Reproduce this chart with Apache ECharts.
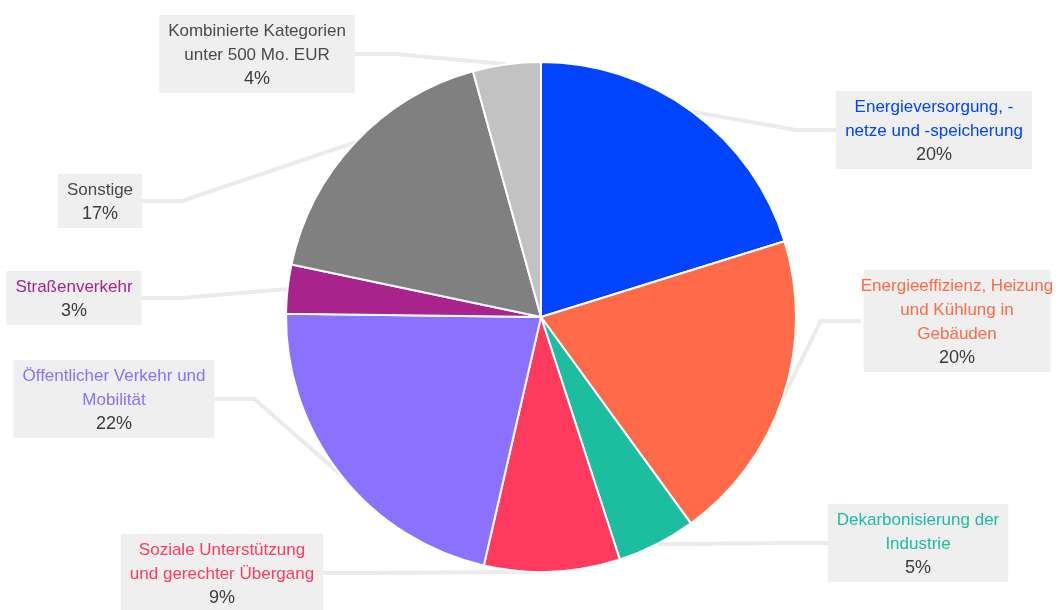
<!DOCTYPE html>
<html>
<head>
<meta charset="utf-8">
<script src="https://cdn.jsdelivr.net/npm/echarts@6/dist/echarts.min.js"></script>
<style>
    html, body { margin: 0; padding: 0; background: #fff; }
    #main { width: 1061px; height: 610px; }
</style>
</head>
<body>
<div id="main"></div>
<script>
// Anteile in Prozent
var categories = [
    'Energieversorgung, -\nnetze und -speicherung',
    'Energieeffizienz, Heizung\nund Kühlung in\nGebäuden',
    'Dekarbonisierung der\nIndustrie',
    'Soziale Unterstützung\nund gerechter Übergang',
    'Öffentlicher Verkehr und\nMobilität',
    'Straßenverkehr',
    'Sonstige',
    'Kombinierte Kategorien\nunter 500 Mo. EUR'
];
var values = [20.2, 19.8, 5.0, 8.6, 21.6, 3.1, 17.4, 4.3];
var colors = ['#0044ff', '#ff6a48', '#1dbd9f', '#ff3a5f', '#8a72ff', '#a8248c', '#808080', '#c2c2c2'];
var textColors = ['#0044ff', '#ff6a48', '#1dbd9f', '#ff3a5f', '#8a72ff', '#a8248c', '#4a4a4a', '#4a4a4a'];

// Mittelpunkte der Beschriftungskästen
var labelPos = [
    [934, 130], [957, 321], [918, 543], [222, 573],
    [114, 399], [74, 298], [100, 201], [257, 54]
];

window.onload = function () {
    var data = [];
    for (var i = 0; i < categories.length; i++) {
        data.push({
            name: categories[i],
            value: values[i],
            itemStyle: { color: colors[i] },
            label: { color: textColors[i] }
        });
    }

    var option = {
        backgroundColor: '#fff',
        series: [{
            type: 'pie',
            center: [541, 317],
            radius: 255,
            startAngle: 90,
            clockwise: true,
            percentPrecision: 0,
            animation: false,
            itemStyle: {
                borderColor: '#fff',
                borderWidth: 2
            },
            label: {
                show: true,
                position: 'outside',
                alignTo: 'none',
                overflow: 'none',
                fontFamily: 'Liberation Sans',
                fontSize: 17,
                lineHeight: 24,
                align: 'center',
                backgroundColor: '#efefef',
                padding: [4, 9, 2, 9],
                formatter: function (p) {
                    return p.name + '\n{p|' + p.percent + '%}';
                },
                rich: {
                    p: {
                        color: '#3c3c3c',
                        fontFamily: 'Liberation Sans',
                        fontSize: 18,
                        lineHeight: 24
                    }
                }
            },
            labelLine: {
                show: true,
                length: 30,
                length2: 40,
                lineStyle: {
                    color: '#ebebeb',
                    width: 4
                }
            },
            labelLayout: function (params) {
                var pos = labelPos[params.dataIndex];
                return {
                    x: pos[0],
                    y: pos[1],
                    align: 'center',
                    verticalAlign: 'middle'
                };
            },
            data: data
        }]
    };

    var chart = echarts.init(document.getElementById('main'));
    chart.setOption(option);
};
</script>
</body>
</html>
